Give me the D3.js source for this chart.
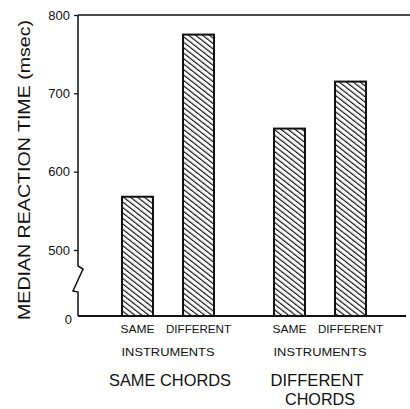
<!DOCTYPE html>
<html>
<head>
<meta charset="utf-8">
<script src="https://cdn.jsdelivr.net/npm/d3@7"></script>
<style>
  body { margin: 0; background: #fff; }
  text { font-family: "Liberation Sans", Arial, sans-serif; fill: #111; }
</style>
</head>
<body>
<div class="chart"></div>
<script>
// data
var chordGroups = ["SAME CHORDS", "DIFFERENT CHORDS"];
var instruments = ["SAME", "DIFFERENT"];
var reactionTimes = [568, 775, 655, 715]; // same/same, same/diff, diff/same, diff/diff
var yTicks = [0, 500, 600, 700, 800];

var svgWidth = 410, svgHeight = 409;

var svg = d3.select(".chart")
    .append("svg")
    .attr("width", svgWidth)
    .attr("height", svgHeight);

// hatch pattern for the bars
var defs = svg.append("defs");
defs.append("pattern")
    .attr("id", "hatch")
    .attr("patternUnits", "userSpaceOnUse")
    .attr("width", 8)
    .attr("height", 4.3)
    .attr("patternTransform", "rotate(38)")
  .append("line")
    .attr("x1", 0).attr("y1", 2)
    .attr("x2", 8).attr("y2", 2)
    .attr("stroke", "#111")
    .attr("stroke-width", 1.2);

// scales: y axis is broken between 0 and 500
var y = d3.scaleLinear()
    .domain([0, 500, 800])
    .range([316, 250, 15]);

var xGroup = d3.scaleBand()
    .domain(chordGroups)
    .range([92, 396])
    .padding(0);

var xInst = d3.scaleBand()
    .domain(instruments)
    .range([0, xGroup.bandwidth()])
    .paddingInner(0.492)
    .paddingOuter(0.492);

var bars = [];
chordGroups.forEach(function (g, i) {
    instruments.forEach(function (ins, j) {
        bars.push({ group: g, inst: ins, value: reactionTimes[i * 2 + j] });
    });
});

// frame: top line and baseline
svg.append("line")
    .attr("x1", 78).attr("x2", 410)
    .attr("y1", y(800)).attr("y2", y(800))
    .attr("stroke", "#111").attr("stroke-width", 1.5);

svg.append("line")
    .attr("x1", 78).attr("x2", 406)
    .attr("y1", y(0)).attr("y2", y(0))
    .attr("stroke", "#111").attr("stroke-width", 2);

// broken y axis line
var axX = 78;
svg.append("path")
    .attr("d", d3.line()([
        [axX, y(800)], [axX, y(500) + 16], [axX + 5, y(500) + 19],
        [axX - 5, y(0) - 25], [axX, y(0) - 24], [axX, y(0)]
    ]))
    .attr("fill", "none")
    .attr("stroke", "#111")
    .attr("stroke-width", 1.5);

// y axis ticks and labels
var yAxis = svg.append("g")
    .attr("transform", "translate(" + axX + ",0)")
    .call(d3.axisLeft(y).tickValues(yTicks).tickSize(4).tickPadding(6));

yAxis.select(".domain").remove();
yAxis.selectAll(".tick line").attr("stroke", "#111").attr("stroke-width", 1.3)
    .filter(function (d) { return d === 0; }).remove();
yAxis.selectAll(".tick text")
    .attr("font-size", 13)
    .attr("font-family", "Liberation Sans, Arial, sans-serif")
    .attr("fill", "#111")
    .attr("dy", function (d) { return d === 0 ? "0.6em" : "0.32em"; })
    .attr("x", function (d) { return d === 0 ? -6 : -8; });

// bars
svg.selectAll("rect.bar")
    .data(bars)
    .enter()
    .append("rect")
    .attr("class", "bar")
    .attr("x", d => xGroup(d.group) + xInst(d.inst))
    .attr("y", d => y(d.value))
    .attr("width", xInst.bandwidth())
    .attr("height", d => y(0) - y(d.value))
    .attr("fill", "url(#hatch)")
    .attr("stroke", "#111")
    .attr("stroke-width", 2);

// instrument labels under each bar
var instLen = { "SAME": 34, "DIFFERENT": 65 };
svg.selectAll("text.inst")
    .data(bars)
    .enter()
    .append("text")
    .attr("class", "inst")
    .attr("x", d => xGroup(d.group) + xInst(d.inst) + xInst.bandwidth() / 2)
    .attr("y", 333)
    .attr("text-anchor", "middle")
    .attr("font-size", 11)
    .attr("textLength", d => instLen[d.inst])
    .attr("lengthAdjust", "spacingAndGlyphs")
    .text(d => d.inst);

svg.selectAll("text.instr")
    .data(chordGroups)
    .enter()
    .append("text")
    .attr("class", "instr")
    .attr("x", d => xGroup(d) + xGroup.bandwidth() / 2)
    .attr("y", 356)
    .attr("text-anchor", "middle")
    .attr("font-size", 11)
    .attr("textLength", 93)
    .attr("lengthAdjust", "spacingAndGlyphs")
    .text("INSTRUMENTS");

// chord group labels
svg.append("text")
    .attr("x", xGroup("SAME CHORDS") + xGroup.bandwidth() / 2 + 2)
    .attr("y", 386)
    .attr("text-anchor", "middle")
    .attr("font-size", 17)
    .attr("textLength", 122)
    .attr("lengthAdjust", "spacingAndGlyphs")
    .text("SAME CHORDS");

var diffX = xGroup("DIFFERENT CHORDS") + xGroup.bandwidth() / 2 - 3;
svg.append("text")
    .attr("x", diffX)
    .attr("y", 386)
    .attr("text-anchor", "middle")
    .attr("font-size", 17)
    .attr("textLength", 93)
    .attr("lengthAdjust", "spacingAndGlyphs")
    .text("DIFFERENT");

svg.append("text")
    .attr("x", diffX + 3)
    .attr("y", 405)
    .attr("text-anchor", "middle")
    .attr("font-size", 16)
    .attr("textLength", 70)
    .attr("lengthAdjust", "spacingAndGlyphs")
    .text("CHORDS");

// y axis title
svg.append("text")
    .attr("transform", "translate(30,170) rotate(-90)")
    .attr("text-anchor", "middle")
    .attr("font-size", 17)
    .attr("textLength", 300)
    .attr("lengthAdjust", "spacingAndGlyphs")
    .text("MEDIAN REACTION TIME (msec)");
</script>
</body>
</html>
